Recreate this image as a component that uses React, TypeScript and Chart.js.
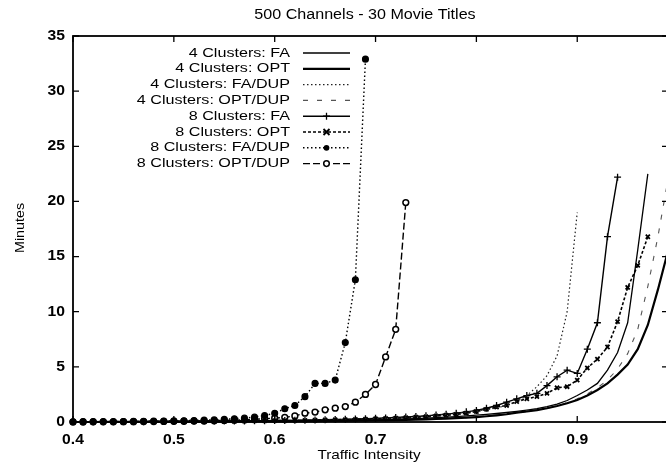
import { useEffect, useRef } from "react";
import { Chart, registerables } from "chart.js";

Chart.register(...registerables);

const TITLE = "500 Channels - 30 Movie Titles";
const X_TITLE = "Traffic Intensity";
const Y_TITLE = "Minutes";

// Traffic intensity grid shared by every series (each series starts at 0.40).
const INTENSITY = [
  0.40, 0.41, 0.42, 0.43, 0.44, 0.45, 0.46, 0.47, 0.48, 0.49,
  0.50, 0.51, 0.52, 0.53, 0.54, 0.55, 0.56, 0.57, 0.58, 0.59,
  0.60, 0.61, 0.62, 0.63, 0.64, 0.65, 0.66, 0.67, 0.68, 0.69,
  0.70, 0.71, 0.72, 0.73, 0.74, 0.75, 0.76, 0.77, 0.78, 0.79,
  0.80, 0.81, 0.82, 0.83, 0.84, 0.85, 0.86, 0.87, 0.88, 0.89,
  0.90, 0.91, 0.92, 0.93, 0.94, 0.95, 0.96, 0.97, 0.98, 0.99,
];

const X_TICKS = [0.4, 0.5, 0.6, 0.7, 0.8, 0.9];
const Y_TICKS = [0, 5, 10, 15, 20, 25, 30, 35];

// Waiting time in minutes, one value per intensity step.
const FA_4 = [
  0.00, 0.00, 0.01, 0.01, 0.01, 0.01, 0.01, 0.02, 0.02, 0.02,
  0.02, 0.03, 0.03, 0.03, 0.04, 0.04, 0.05, 0.05, 0.06, 0.06,
  0.07, 0.08, 0.09, 0.10, 0.11, 0.12, 0.13, 0.14, 0.16, 0.18,
  0.20, 0.22, 0.25, 0.28, 0.31, 0.35, 0.39, 0.44, 0.49, 0.55,
  0.62, 0.69, 0.77, 0.86, 0.96, 1.08, 1.22, 1.40, 1.62, 1.95,
  2.40, 2.90, 3.50, 4.70, 6.30, 9.00, 15.6, 22.5,
];
const OPT_4 = [
  0.00, 0.00, 0.00, 0.01, 0.01, 0.01, 0.01, 0.01, 0.01, 0.02,
  0.02, 0.02, 0.02, 0.03, 0.03, 0.03, 0.04, 0.04, 0.05, 0.05,
  0.06, 0.06, 0.07, 0.08, 0.08, 0.09, 0.10, 0.11, 0.12, 0.13,
  0.14, 0.15, 0.17, 0.19, 0.21, 0.24, 0.27, 0.31, 0.35, 0.40,
  0.45, 0.52, 0.60, 0.70, 0.85, 0.95, 1.08, 1.25, 1.45, 1.70,
  2.00, 2.40, 2.90, 3.50, 4.30, 5.20, 6.60, 8.80, 12.0, 15.5,
];
const FA_DUP_4 = [
  0.00, 0.01, 0.01, 0.01, 0.01, 0.02, 0.02, 0.02, 0.03, 0.03,
  0.03, 0.04, 0.04, 0.05, 0.05, 0.06, 0.07, 0.08, 0.09, 0.10,
  0.11, 0.12, 0.13, 0.15, 0.16, 0.18, 0.20, 0.22, 0.25, 0.28,
  0.31, 0.35, 0.39, 0.44, 0.49, 0.55, 0.62, 0.70, 0.79, 0.89,
  1.00, 1.13, 1.28, 1.50, 1.85, 2.40, 3.20, 4.20, 6.00, 10.0,
  19.0,
];
const OPT_DUP_4 = [
  0.00, 0.00, 0.00, 0.01, 0.01, 0.01, 0.01, 0.02, 0.02, 0.02,
  0.02, 0.03, 0.03, 0.03, 0.04, 0.04, 0.05, 0.05, 0.06, 0.06,
  0.07, 0.07, 0.08, 0.09, 0.10, 0.10, 0.11, 0.12, 0.13, 0.14,
  0.15, 0.17, 0.19, 0.21, 0.23, 0.26, 0.29, 0.32, 0.36, 0.40,
  0.48, 0.55, 0.63, 0.72, 0.82, 0.94, 1.08, 1.25, 1.45, 1.75,
  2.10, 2.55, 3.10, 3.80, 4.80, 6.20, 8.40, 12.3, 16.8, 22.0,
];
const FA_8 = [
  0.01, 0.01, 0.02, 0.02, 0.02, 0.03, 0.03, 0.03, 0.04, 0.04,
  0.05, 0.05, 0.06, 0.06, 0.07, 0.08, 0.09, 0.10, 0.11, 0.12,
  0.13, 0.14, 0.15, 0.16, 0.18, 0.20, 0.22, 0.24, 0.27, 0.30,
  0.33, 0.37, 0.41, 0.45, 0.50, 0.56, 0.63, 0.71, 0.80, 0.92,
  1.05, 1.25, 1.50, 1.80, 2.10, 2.40, 2.60, 3.30, 4.10, 4.70,
  4.40, 6.60, 9.00, 16.8, 22.2,
];
const OPT_8 = [
  0.01, 0.01, 0.01, 0.02, 0.02, 0.02, 0.03, 0.03, 0.03, 0.04,
  0.04, 0.05, 0.05, 0.06, 0.06, 0.07, 0.08, 0.09, 0.10, 0.11,
  0.12, 0.13, 0.14, 0.15, 0.16, 0.18, 0.20, 0.22, 0.24, 0.26,
  0.29, 0.32, 0.35, 0.39, 0.43, 0.48, 0.54, 0.61, 0.69, 0.80,
  0.95, 1.15, 1.35, 1.50, 1.85, 2.10, 2.30, 2.60, 3.10, 3.20,
  3.80, 4.90, 5.70, 6.80, 9.10, 12.2, 14.2, 16.8,
];
const FA_DUP_8 = [
  0.02, 0.03, 0.03, 0.04, 0.04, 0.05, 0.06, 0.07, 0.08, 0.09,
  0.10, 0.12, 0.14, 0.17, 0.20, 0.24, 0.30, 0.36, 0.45, 0.58,
  0.80, 1.20, 1.50, 2.30, 3.50, 3.50, 3.80, 7.20, 12.9, 32.9,
];
const OPT_DUP_8 = [
  0.01, 0.01, 0.02, 0.02, 0.02, 0.03, 0.03, 0.04, 0.04, 0.05,
  0.06, 0.07, 0.08, 0.10, 0.12, 0.14, 0.17, 0.20, 0.25, 0.30,
  0.35, 0.42, 0.55, 0.80, 0.90, 1.10, 1.25, 1.40, 1.80, 2.50,
  3.40, 5.90, 8.40, 19.9,
];

type Mark = "none" | "cross" | "xmark" | "dot" | "ring";

interface SeriesStyle {
  label: string;
  values: number[];
  color: string;
  width: number;
  dash: number[];
  mark: Mark;
}

const SERIES: SeriesStyle[] = [
  { label: "4 Clusters: FA", values: FA_4, color: "#000", width: 1.3, dash: [], mark: "none" },
  { label: "4 Clusters: OPT", values: OPT_4, color: "#000", width: 2.2, dash: [], mark: "none" },
  { label: "4 Clusters: FA/DUP", values: FA_DUP_4, color: "#222", width: 1.2, dash: [1.5, 2.5], mark: "none" },
  { label: "4 Clusters: OPT/DUP", values: OPT_DUP_4, color: "#555", width: 1.1, dash: [5, 9], mark: "none" },
  { label: "8 Clusters: FA", values: FA_8, color: "#000", width: 1.4, dash: [], mark: "cross" },
  { label: "8 Clusters: OPT", values: OPT_8, color: "#000", width: 1.6, dash: [3, 2], mark: "xmark" },
  { label: "8 Clusters: FA/DUP", values: FA_DUP_8, color: "#000", width: 1.4, dash: [1.5, 2.5], mark: "dot" },
  { label: "8 Clusters: OPT/DUP", values: OPT_DUP_8, color: "#000", width: 1.4, dash: [7, 3], mark: "ring" },
];

const POINT_STYLE: Record<Mark, any> = {
  none: false,
  cross: "cross",
  xmark: "crossRot",
  dot: "circle",
  ring: "circle",
};

function drawMark(ctx: CanvasRenderingContext2D, mark: Mark, x: number, y: number) {
  ctx.save();
  ctx.setLineDash([]);
  ctx.strokeStyle = "#000";
  ctx.fillStyle = "#000";
  if (mark === "cross") {
    ctx.lineWidth = 1.3;
    ctx.beginPath();
    ctx.moveTo(x - 3.5, y); ctx.lineTo(x + 3.5, y);
    ctx.moveTo(x, y - 3.5); ctx.lineTo(x, y + 3.5);
    ctx.stroke();
  } else if (mark === "xmark") {
    ctx.lineWidth = 1.8;
    ctx.beginPath();
    ctx.moveTo(x - 3, y - 3); ctx.lineTo(x + 3, y + 3);
    ctx.moveTo(x - 3, y + 3); ctx.lineTo(x + 3, y - 3);
    ctx.stroke();
  } else if (mark === "dot") {
    ctx.beginPath();
    ctx.arc(x, y, 2.9, 0, Math.PI * 2);
    ctx.fill();
  } else if (mark === "ring") {
    ctx.fillStyle = "#fff";
    ctx.lineWidth = 1.5;
    ctx.beginPath();
    ctx.arc(x, y, 2.8, 0, Math.PI * 2);
    ctx.fill();
    ctx.stroke();
  }
  ctx.restore();
}

// Text drawn with a horizontal stretch to match the wide lettering.
function wideText(
  ctx: CanvasRenderingContext2D,
  text: string,
  x: number,
  y: number,
  font: string,
  sx: number,
  align: CanvasTextAlign,
  angle = 0
) {
  ctx.save();
  ctx.font = font;
  ctx.fillStyle = "#000";
  ctx.textAlign = align;
  ctx.textBaseline = "middle";
  ctx.translate(x, y);
  if (angle) ctx.rotate(angle);
  ctx.scale(sx, 1);
  ctx.fillText(text, 0, 0);
  ctx.restore();
}

const framePlugin = {
  id: "frameAndText",
  afterDraw(chart: any) {
    const { ctx, chartArea: a, scales } = chart;
    const xs = scales.x;
    const ys = scales.y;
    ctx.save();
    ctx.strokeStyle = "#000";
    ctx.setLineDash([]);

    // plot frame
    ctx.lineWidth = 1.8;
    ctx.strokeRect(a.left, a.top, a.right - a.left, a.bottom - a.top);

    // inward tick marks on all four sides
    ctx.lineWidth = 1.3;
    ctx.beginPath();
    for (const v of X_TICKS) {
      const px = xs.getPixelForValue(v);
      ctx.moveTo(px, a.bottom); ctx.lineTo(px, a.bottom - 6);
      ctx.moveTo(px, a.top); ctx.lineTo(px, a.top + 6);
    }
    for (const v of Y_TICKS) {
      const py = ys.getPixelForValue(v);
      ctx.moveTo(a.left, py); ctx.lineTo(a.left + 6, py);
      ctx.moveTo(a.right, py); ctx.lineTo(a.right - 6, py);
    }
    ctx.stroke();
    ctx.restore();

    // tick labels
    const tickFont = "bold 14px 'Liberation Sans', Arial, sans-serif";
    for (const v of X_TICKS) {
      wideText(ctx, v.toFixed(1), xs.getPixelForValue(v), a.bottom + 18, tickFont, 1.12, "center");
    }
    for (const v of Y_TICKS) {
      wideText(ctx, String(v), a.left - 8, ys.getPixelForValue(v), tickFont, 1.12, "right");
    }

    // titles
    wideText(ctx, TITLE, 365, 15, "14px 'Liberation Sans', Arial, sans-serif", 1.15, "center");
    wideText(ctx, X_TITLE, 369, 455, "13px 'Liberation Sans', Arial, sans-serif", 1.18, "center");
    wideText(ctx, Y_TITLE, 20, 228, "13px 'Liberation Sans', Arial, sans-serif", 1.1, "center", -Math.PI / 2);

    // key: label, line sample, marker
    const keyRight = 290;
    const sampleL = 303;
    const sampleR = 350;
    SERIES.forEach((s, i) => {
      const y = 53 + i * 15.8;
      wideText(ctx, s.label, keyRight, y, "13px 'Liberation Sans', Arial, sans-serif", 1.24, "right");
      ctx.save();
      ctx.strokeStyle = s.color;
      ctx.lineWidth = s.width;
      ctx.setLineDash(s.dash);
      ctx.beginPath();
      ctx.moveTo(sampleL, y);
      ctx.lineTo(sampleR, y);
      ctx.stroke();
      ctx.restore();
      drawMark(ctx, s.mark, (sampleL + sampleR) / 2, y);
    });
  },
};

export default function App() {
  const canvasRef = useRef<HTMLCanvasElement | null>(null);

  useEffect(() => {
    const canvas = canvasRef.current;
    if (!canvas) return;

    const datasets = SERIES.map((s) => ({
      label: s.label,
      data: s.values.map((y, i) => ({ x: INTENSITY[i], y })),
      borderColor: s.color,
      borderWidth: s.width,
      borderDash: s.dash,
      backgroundColor: s.color,
      fill: false,
      tension: 0,
      clip: false as const,
      pointStyle: POINT_STYLE[s.mark],
      pointRadius: s.mark === "none" ? 0 : s.mark === "cross" ? 3.5 : 2.9,
      pointBorderWidth: s.mark === "xmark" ? 1.8 : s.mark === "ring" ? 1.5 : 1.3,
      pointBorderColor: "#000",
      pointBackgroundColor: s.mark === "ring" ? "#fff" : "#000",
    }));

    const chart = new Chart(canvas, {
      type: "line",
      data: { datasets },
      options: {
        animation: false,
        responsive: false,
        events: [],
        layout: { padding: { top: 36, right: 12, left: 0, bottom: 0 } },
        plugins: {
          legend: { display: false },
          title: { display: false },
          tooltip: { enabled: false },
        },
        scales: {
          x: {
            type: "linear",
            min: 0.4,
            max: 0.99,
            grid: { display: false },
            border: { display: false },
            ticks: { display: false },
            afterFit: (s: any) => {
              s.height = 42;
            },
          },
          y: {
            type: "linear",
            min: 0,
            max: 35,
            grid: { display: false },
            border: { display: false },
            ticks: { display: false },
            afterFit: (s: any) => {
              s.width = 73;
            },
          },
        },
      },
      plugins: [framePlugin],
    });

    return () => chart.destroy();
  }, []);

  return (
    <div
      style={{
        position: "fixed",
        left: 0,
        top: 0,
        width: 666,
        height: 464,
        overflow: "hidden",
        background: "#fff",
      }}
    >
      <canvas ref={canvasRef} width={680} height={464} style={{ display: "block" }} />
    </div>
  );
}
